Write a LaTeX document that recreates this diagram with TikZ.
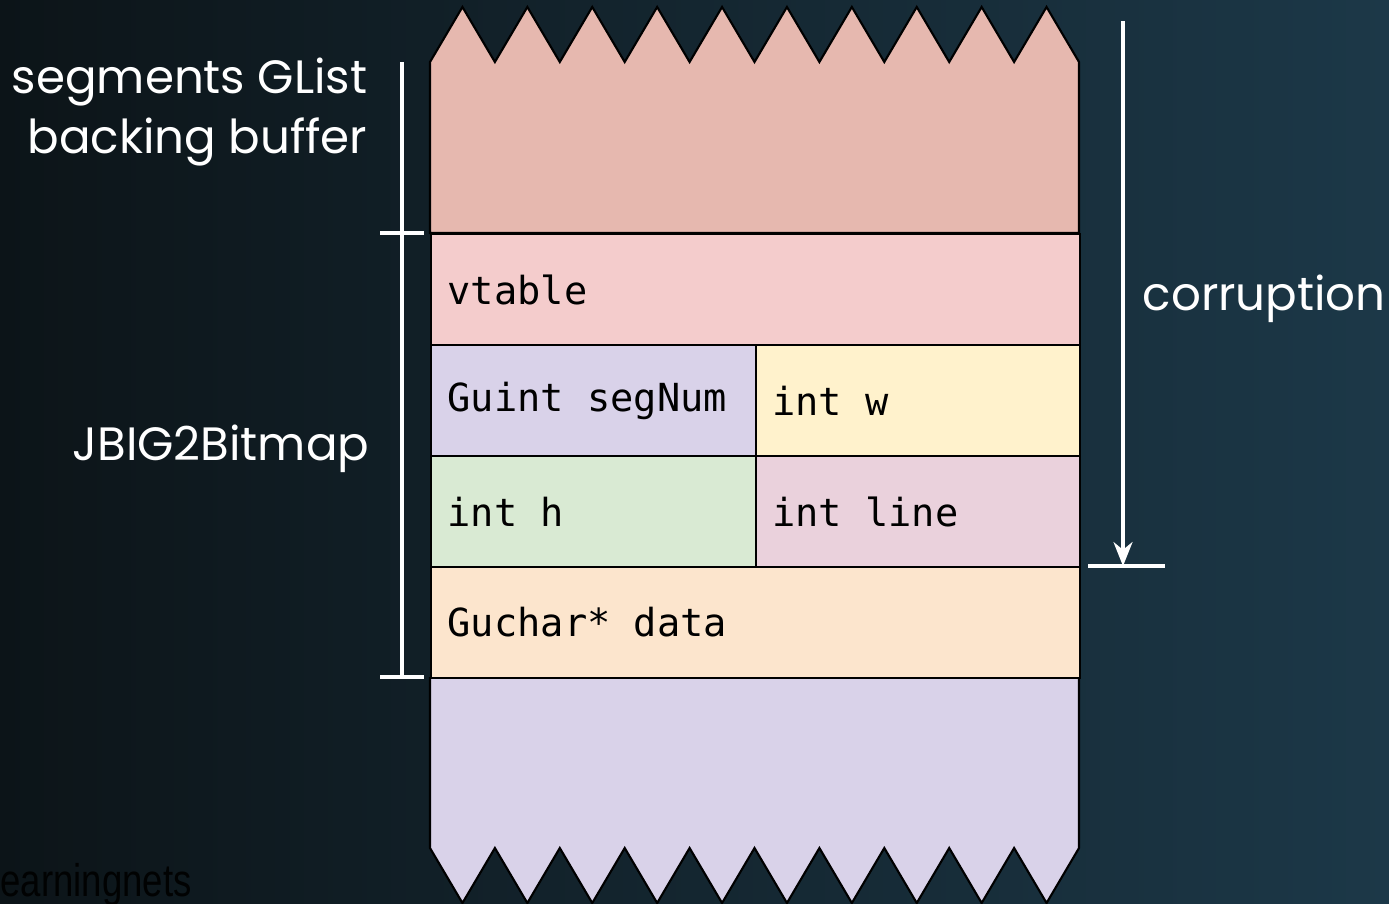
\documentclass[tikz,border=0pt]{standalone}
\usepackage{fontspec}
\setmainfont{Poppins}
\newfontfamily\codefont{DejaVu Sans Mono}
\newfontfamily\markfont{Liberation Sans}
\usetikzlibrary{arrows.meta}
\definecolor{bgleft}{HTML}{0C1418}
\definecolor{bgright}{HTML}{1C3848}
\definecolor{glistcol}{HTML}{E6B8AF}
\definecolor{vtablecol}{HTML}{F4CCCC}
\definecolor{lavcol}{HTML}{D9D2E9}
\definecolor{yelcol}{HTML}{FFF2CC}
\definecolor{grncol}{HTML}{D9EAD3}
\definecolor{rosecol}{HTML}{EAD1DC}
\definecolor{peachcol}{HTML}{FCE5CD}
\tikzset{
  cell/.style={draw=black, line width=0.6pt, anchor=north west, inner sep=0pt,
    minimum height=1.11cm},
  wide/.style={cell, minimum width=6.49cm},
  half/.style={cell, minimum width=3.245cm},
  field/.style={anchor=west, inner sep=0pt, font=\codefont\fontsize{11}{13}\selectfont},
  lbl/.style={text=white, inner sep=0pt, font=\fontsize{13.3}{16.8}\selectfont},
  bar/.style={draw=white, line width=0.9pt},
}
\begin{document}
\begin{tikzpicture}[x=1cm, y=-1cm]
\useasboundingbox (0,0) rectangle (13.89,9.03);
\shade[left color=bgleft, right color=bgright] (0,0) rectangle (13.89,9.03);
\node[anchor=base west, inner sep=0pt, text=black!90!bgleft,
      font=\markfont\fontsize{13}{15}\selectfont, xscale=0.8] (mark) at (0,8.96) {earningnets};

% zigzag ends of the buffer
\draw[fill=glistcol, line width=0.6pt] (4.30,0.62)
  \foreach \k in {0,...,9} { -- ({4.30+0.649*\k+0.3245},0.07) -- ({4.30+0.649*(\k+1)},0.62) }
  -- (10.79,2.33) -- (4.30,2.33) -- cycle;
\fill[lavcol] (4.30,6.77) rectangle (10.79,8.48);
\draw[lavcol!80!black!90, line width=0.5pt] (4.30,8.48) -- (10.79,8.48);
\draw[fill=lavcol, line width=0.6pt] (4.30,6.77) -- (4.30,8.48)
  \foreach \k in {0,...,9} { -- ({4.30+0.649*\k+0.3245},9.03) -- ({4.30+0.649*(\k+1)},8.48) }
  -- (10.79,6.77);
\draw[line width=0.6pt] (4.30,6.77) -- (10.79,6.77);

% JBIG2Bitmap fields
\node[wide, fill=vtablecol] (vtable) at (4.30,2.33) {};
\node[half, fill=lavcol] (segnum) at (4.30,3.44) {};
\node[half, fill=yelcol] (w) at (7.545,3.44) {};
\node[half, fill=grncol] (h) at (4.30,4.55) {};
\node[half, fill=rosecol] (line) at (7.545,4.55) {};
\node[wide, fill=peachcol] (data) at (4.30,5.66) {};
\foreach \f/\t in {vtable/vtable, segnum/Guint segNum, w/int w, h/int h,
                   line/int line, data/Guchar* data}
  \node[field] (\f-txt) at ([xshift=0.17cm]\f.west) {\t};

% extents on the left
\coordinate (top) at (4.02,0.62);
\coordinate (mid) at (4.02,2.33);
\coordinate (bot) at (4.02,6.77);
\draw[bar] (top) -- (bot);
\draw[bar] ([xshift=-0.22cm]mid) -- ([xshift=0.22cm]mid);
\draw[bar] ([xshift=-0.22cm]bot) -- ([xshift=0.22cm]bot);
\node[lbl, anchor=east, align=right] (glist) at (3.68,1.12) {segments GList\\backing buffer};
\node[lbl, anchor=base east] (bitmap) at (3.70,4.60) {JBIG2Bitmap};

% corruption arrow
\coordinate (cstart) at (11.23,0.21);
\coordinate (cend) at (11.23,5.66);
\draw[bar, -{Stealth[length=0.24cm, width=0.19cm]}] (cstart) -- (cend);
\draw[bar] ([xshift=-0.35cm]cend) -- ([xshift=0.42cm]cend);
\node[lbl, anchor=base west] (corrupt) at (11.42,3.10) {corruption};
\end{tikzpicture}
\end{document}
